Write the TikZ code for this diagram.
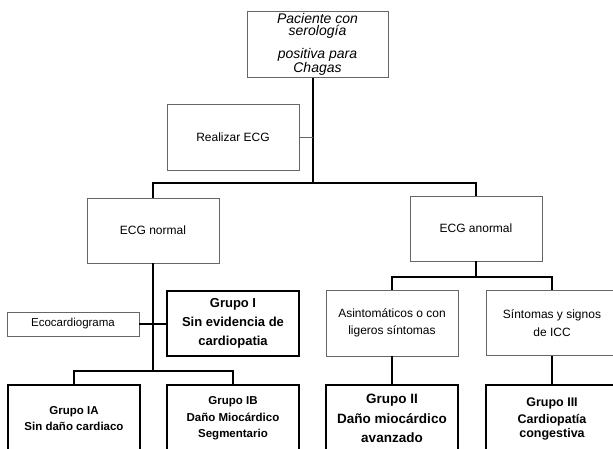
\documentclass[tikz,border=0pt]{standalone}
\usepackage{fontspec}
\setmainfont{Liberation Sans}
\usetikzlibrary{positioning}

\begin{document}
\begin{tikzpicture}[
  x=1pt,y=-1pt,
  box/.style={draw=black!60,fill=white,rectangle,align=center,line width=0.8pt,
    minimum width=132pt,minimum height=65pt,inner sep=2pt,
    font=\fontsize{12}{17.5}\selectfont},
  grupo/.style={box,draw=black,line width=1.8pt,
    font=\bfseries\fontsize{13}{19}\selectfont},
  link/.style={draw=black,line width=1.8pt},
  thinlink/.style={draw=black!60,line width=0.8pt}
]
  \useasboundingbox (0,0) rectangle (613,448);
  \clip (0,0) rectangle (613,448);
  \node[box,minimum width=141pt,font=\itshape\fontsize{14}{12.5}\selectfont]
    (paciente) at (317.5,44.5) {Paciente con\\serología\\[9pt]positiva para\\Chagas};
  \node[box,minimum height=66pt] (realizar) at (233,137) {Realizar ECG};
  \node[box] (normal) at (153,230.5) {ECG normal};
  \node[box] (anormal) at (476,228.5) {ECG anormal};
  \node[box,minimum height=24pt,font=\fontsize{11.5}{14}\selectfont]
    (eco) at (73,324) {Ecocardiograma};
  \node[grupo] (grupoI) at (233,323.5) {Grupo I\\Sin evidencia de\\cardiopatia};
  \node[box,minimum height=66pt] (asint) at (392,323) {Asintomáticos o con\\ligeros síntomas};
  \node[box] (sint) at (552,323) {Síntomas y signos\\de ICC};
  \node[grupo,minimum height=67pt,font=\bfseries\fontsize{11.5}{16.5}\selectfont]
    (grupoIA) at (74,418.5) {Grupo IA\\Sin daño cardiaco};
  \node[grupo,minimum height=67pt,font=\bfseries\fontsize{11.5}{16.5}\selectfont]
    (grupoIB) at (233,418.5) {Grupo IB\\Daño Miocárdico\\Segmentario};
  \node[grupo,minimum height=67pt,font=\bfseries\fontsize{13.5}{19.5}\selectfont]
    (grupoII) at (392,418.5) {Grupo II\\Daño miocárdico\\avanzado};
  \node[grupo,minimum height=67pt,font=\bfseries\fontsize{12.5}{14}\selectfont]
    (grupoIII) at (552,418.5) {Grupo III\\[3pt]Cardiopatía\\congestiva};
  \coordinate (tronco) at (313,183);
  \coordinate (ramaI) at (153,371);
  \coordinate (ramaII) at (476,277);
  \draw[link] (tronco |- paciente.south) -- (tronco);
  \draw[thinlink] (realizar.east) -- (realizar.east -| tronco);
  \draw[link] (normal.north) |- (tronco) -| (anormal.north);
  \draw[link] (normal.south) -- (ramaI);
  \draw[link] (eco.east) -- (grupoI.west |- eco.east);
  \draw[link] (grupoIA.north) |- (ramaI) -| (grupoIB.north);
  \draw[link] (anormal.south) -- (ramaII);
  \draw[link] (asint.north) |- (ramaII) -| (sint.north);
  \draw[link] (asint.south) -- (grupoII.north);
  \draw[link] (sint.south) -- (grupoIII.north);
\end{tikzpicture}
\end{document}
